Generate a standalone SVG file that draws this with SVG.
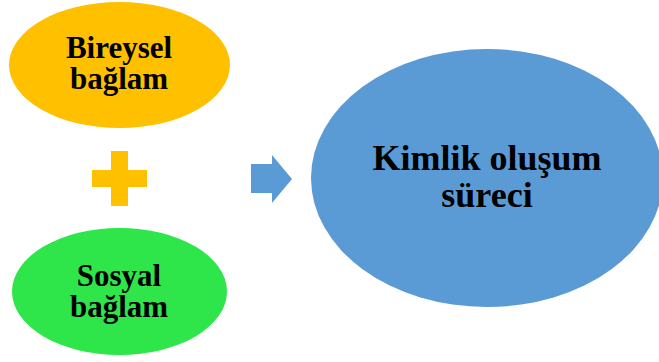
<svg xmlns="http://www.w3.org/2000/svg" width="659" height="362" viewBox="0 0 659 362">
  <style>
    .label { font-family: "Liberation Serif", "Times New Roman", serif; font-weight: bold; fill: #000; text-anchor: middle; }
    .small { font-size: 31px; }
    .big { font-size: 36px; }
  </style>
  <rect width="659" height="362" fill="#fff"/>

  <g id="bireysel">
    <ellipse cx="119.5" cy="65" rx="110.5" ry="63" fill="#FFC000"/>
    <text class="label small" x="119" y="58">Bireysel</text>
    <text class="label small" x="119" y="89">bağlam</text>
  </g>

  <g id="sosyal">
    <ellipse cx="119.5" cy="291.5" rx="107.5" ry="63.5" fill="#2EE64A"/>
    <text class="label small" x="119" y="286">Sosyal</text>
    <text class="label small" x="119" y="317">bağlam</text>
  </g>

  <g id="kimlik">
    <ellipse cx="487" cy="178" rx="176" ry="129" fill="#5B9BD5"/>
    <text class="label big" x="487" y="170">Kimlik oluşum</text>
    <text class="label big" x="487" y="207">süreci</text>
  </g>

  <g id="connectors">
    <!-- plus sign between the two context ellipses -->
    <path d="M111 151 H128 V170 H147 V187 H128 V206 H111 V187 H92 V170 H111 Z" fill="#FFC000"/>
    <!-- arrow toward the identity ellipse -->
    <path d="M251 164 H272 V155 L292 179 L272 203 V193 H251 Z" fill="#5B9BD5"/>
  </g>
</svg>
